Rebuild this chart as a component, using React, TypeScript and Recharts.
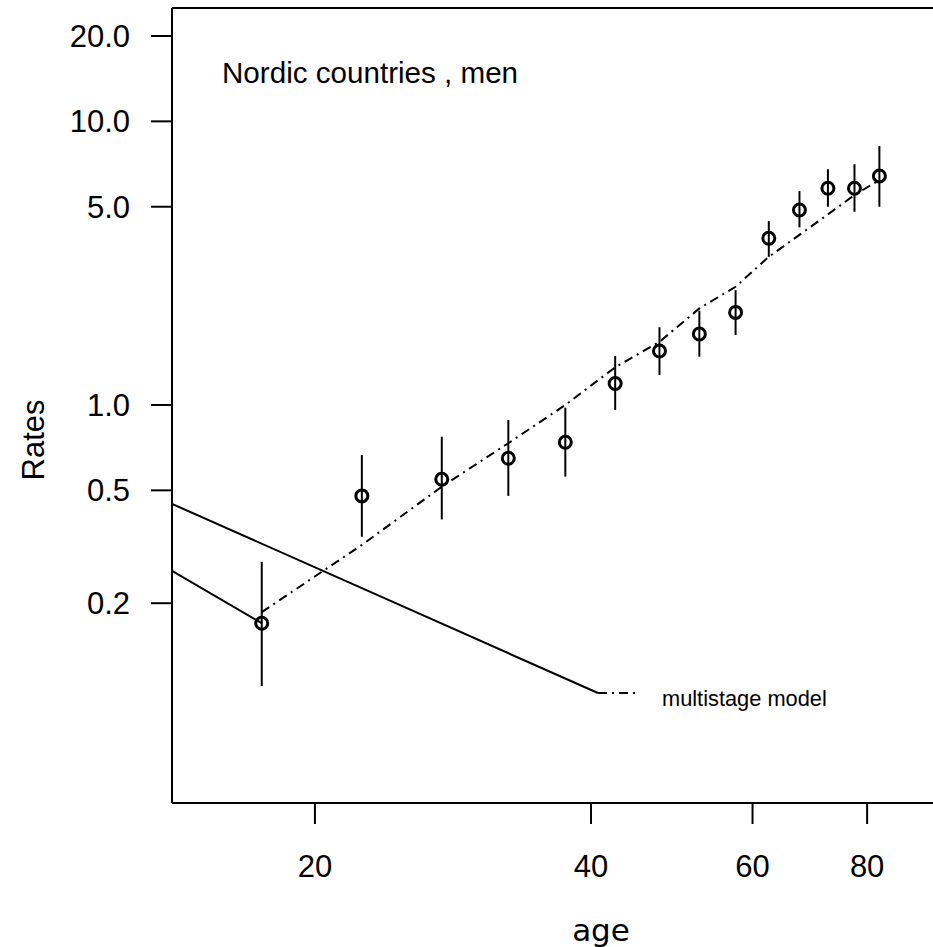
import React from "react";
import {
  ComposedChart,
  Scatter,
  Line,
  XAxis,
  YAxis,
  ErrorBar,
  ReferenceLine,
} from "recharts";

// Age-group midpoints (years)
const ages = [17.5, 22.5, 27.5, 32.5, 37.5, 42.5, 47.5, 52.5, 57.5, 62.5, 67.5, 72.5, 77.5, 82.5];
// Observed rates
const observed = [0.17, 0.478, 0.547, 0.649, 0.739, 1.19, 1.55, 1.78, 2.12, 3.87, 4.87, 5.81, 5.81, 6.42];
// Confidence bounds
const lower = [0.102, 0.343, 0.395, 0.478, 0.559, 0.96, 1.276, 1.48, 1.765, 3.33, 4.23, 5.0, 4.8, 5.0];
const upper = [0.28, 0.666, 0.773, 0.885, 0.978, 1.488, 1.88, 2.15, 2.54, 4.45, 5.68, 6.78, 7.06, 8.19];
// Multistage model fit
const model = [0.186, 0.321, 0.515, 0.733, 1.0, 1.358, 1.67, 2.19, 2.61, 3.33, 3.98, 4.7, 5.5, 6.21];

// Two stray solid segments
const segAAges = [13.97, 40.7];
const segARates = [0.448, 0.0965];
const segBAges = [13.97, 17.5];
const segBRates = [0.26, 0.17];

const xTicks = [20, 40, 60, 80];
const yTicks = [0.2, 0.5, 1, 5, 10, 20];
const xDomain = [13.97, 95.1];
const yDomain = [0.0395, 25.1];

const pointData = ages.map((a, i) => ({
  age: a,
  rate: observed[i],
  err: [observed[i] - lower[i], upper[i] - observed[i]],
}));
const modelData = ages.map((a, i) => ({ age: a, rate: model[i] }));
const segA = segAAges.map((a, i) => ({ age: a, rate: segARates[i] }));
const segB = segBAges.map((a, i) => ({ age: a, rate: segBRates[i] }));

const FONT = "'Liberation Sans', Arial, sans-serif";

const Circle = (props: any) => (
  <circle cx={props.cx} cy={props.cy} r={6} fill="none" stroke="#000" strokeWidth={3} />
);

export default function App() {
  return (
    <div style={{ position: "absolute", left: 0, top: 0, width: 933, height: 947, overflow: "hidden", background: "#fff" }}>
      <ComposedChart
        width={940}
        height={947}
        margin={{ top: 8, right: 4, left: 0, bottom: 0 }}
      >
        <XAxis
          dataKey="age"
          type="number"
          scale="log"
          domain={xDomain}
          allowDataOverflow
          ticks={xTicks}
          height={144}
          tickSize={21}
          tickMargin={31}
          axisLine={{ stroke: "#000", strokeWidth: 2 }}
          tickLine={{ stroke: "#000", strokeWidth: 2 }}
          tick={{ fill: "#000", fontSize: 31, fontFamily: FONT }}
        />
        <YAxis
          dataKey="rate"
          type="number"
          scale="log"
          domain={yDomain}
          allowDataOverflow
          ticks={yTicks}
          width={172}
          tickSize={21}
          tickMargin={21}
          tickFormatter={(v: number) => v.toFixed(1)}
          axisLine={{ stroke: "#000", strokeWidth: 2 }}
          tickLine={{ stroke: "#000", strokeWidth: 2 }}
          tick={{ fill: "#000", fontSize: 31, fontFamily: FONT }}
        />
        <ReferenceLine y={yDomain[1]} stroke="#000" strokeWidth={2} />
        <Line
          data={segA}
          dataKey="rate"
          stroke="#000"
          strokeWidth={2}
          dot={false}
          isAnimationActive={false}
          type="linear"
        />
        <Line
          data={segB}
          dataKey="rate"
          stroke="#000"
          strokeWidth={2}
          dot={false}
          isAnimationActive={false}
          type="linear"
        />
        <Line
          data={modelData}
          dataKey="rate"
          stroke="#000"
          strokeWidth={2}
          strokeDasharray="9 5 2 5"
          dot={false}
          isAnimationActive={false}
          type="linear"
        />
        <Scatter data={pointData} dataKey="rate" shape={Circle} isAnimationActive={false}>
          <ErrorBar dataKey="err" direction="y" width={0} stroke="#000" strokeWidth={2} isAnimationActive={false} />
        </Scatter>
        <line x1={598} y1={693} x2={637} y2={693} stroke="#000" strokeWidth={2} strokeDasharray="9 5 2 5" />
        <text x={662} y={706} fontSize={21.8} fontFamily={FONT} fill="#000">multistage model</text>
        <text x={222} y={83} fontSize={29.6} fontFamily={FONT} fill="#000">Nordic countries , men</text>
        <text x={44} y={440} fontSize={31} fontFamily={FONT} fill="#000" textAnchor="middle" transform="rotate(-90 44 440)">Rates</text>
        <text x={601} y={941} fontSize={31} fontFamily="'DejaVu Sans', Verdana, sans-serif" fill="#000" textAnchor="middle">age</text>
      </ComposedChart>
    </div>
  );
}
